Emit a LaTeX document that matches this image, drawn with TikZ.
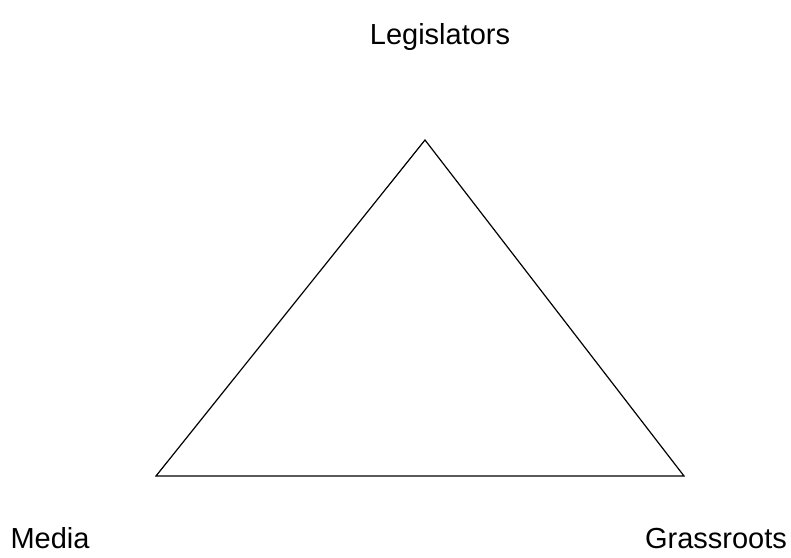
\documentclass[tikz,border=0pt]{standalone}
\usepackage{fontspec}
\setmainfont{Liberation Sans}
\usepackage{tikz}
\usetikzlibrary{positioning}
\tikzset{
  corner/.style={font=\fontsize{14.5}{17}\selectfont,anchor=base,inner sep=0pt},
  side/.style={line width=0.6pt,draw=black}
}

\begin{document}
\begin{tikzpicture}[x=0.5pt,y=-0.5pt]
  \useasboundingbox (0,0) rectangle (791,557);
  \coordinate (top) at (425,140);
  \coordinate (left) at (156,476);
  \coordinate (right) at (684,476);
  \draw[side] (top)--(right)--(left)--cycle;
  \node[corner] (legis) at (440,44) {Legislators};
  \node[corner] (media) at (50,548) {Media};
  \node[corner] (grass) at (716,548) {Grassroots};
\end{tikzpicture}
\end{document}
